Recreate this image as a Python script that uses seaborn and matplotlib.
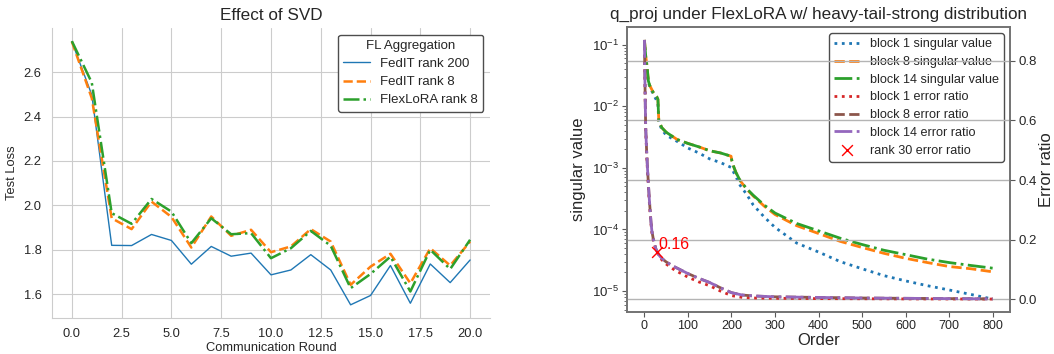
import matplotlib
matplotlib.use("Agg")
import matplotlib.pyplot as plt
import seaborn as sns

# ---------------- data: left panel ----------------
rounds = list(range(21))
fedit_r200 = [2.738, 2.498, 1.82, 1.819, 1.869, 1.842, 1.735, 1.815, 1.771, 1.785, 1.687,
              1.709, 1.778, 1.709, 1.552, 1.594, 1.729, 1.559, 1.736, 1.652, 1.754]
fedit_r8 = [2.738, 2.483, 1.942, 1.893, 2.017, 1.948, 1.81, 1.95, 1.863, 1.89, 1.789,
            1.815, 1.893, 1.837, 1.642, 1.724, 1.782, 1.649, 1.807, 1.729, 1.837]
flexlora_r8 = [2.74, 2.553, 1.965, 1.917, 2.029, 1.972, 1.83, 1.942, 1.87, 1.875, 1.762,
               1.807, 1.885, 1.818, 1.627, 1.691, 1.769, 1.612, 1.8, 1.713, 1.845]
left_labels = ["FedIT rank 200", "FedIT rank 8", "FlexLoRA rank 8"]

# ---------------- data: right panel ----------------
sv_order = [0, 3, 6, 9, 12, 20, 28, 31, 33, 40, 50, 75, 100, 125, 150, 175, 199, 201,
            205, 210, 220, 235, 250, 275, 300, 350, 400, 450, 500, 550, 600, 650, 700, 750, 800]
block1_sv = [0.12, 0.06, 0.04, 0.025, 0.021, 0.016, 0.0125, 0.011, 0.0055, 0.0042, 0.0034,
             0.0027, 0.0021, 0.00175, 0.0014, 0.00122, 0.00102, 0.00098, 0.00085, 0.00072,
             0.00052, 0.00037, 0.00025, 0.00016, 0.000108, 0.00006, 0.000043, 0.000030,
             0.000023, 0.0000178, 0.0000146, 0.0000122, 0.0000104, 0.0000088, 0.0000074]
block8_sv = [0.12, 0.065, 0.045, 0.026, 0.022, 0.017, 0.0145, 0.013, 0.0058, 0.0045, 0.0038,
             0.0029, 0.0025, 0.0022, 0.0019, 0.00175, 0.00155, 0.0013, 0.00105, 0.00085,
             0.00062, 0.00045, 0.00035, 0.00024, 0.000175, 0.000115, 0.000086, 0.000064,
             0.000051, 0.000041, 0.000034, 0.000029, 0.000025, 0.000023, 0.0000205]
block14_sv = [0.12, 0.065, 0.045, 0.026, 0.022, 0.017, 0.0145, 0.013, 0.0058, 0.0045, 0.0038,
              0.0029, 0.0025, 0.0022, 0.0019, 0.00175, 0.00155, 0.0013, 0.00105, 0.00085,
              0.00062, 0.00046, 0.00036, 0.00025, 0.000185, 0.000125, 0.000095, 0.000072,
              0.000057, 0.000046, 0.000039, 0.000033, 0.000029, 0.000026, 0.0000235]

err_order = [0, 1, 2, 3, 5, 7, 9, 11, 13, 15, 17, 20, 23, 26, 30, 35, 40, 50, 70, 100,
             125, 150, 175, 200, 225, 250, 300, 400, 500, 600, 700, 800]
block1_err = [0.87, 0.75, 0.65, 0.57, 0.49, 0.43, 0.38, 0.33, 0.29, 0.255, 0.225, 0.2,
              0.183, 0.168, 0.155, 0.142, 0.132, 0.118, 0.097, 0.074, 0.058, 0.045, 0.027,
              0.012, 0.006, 0.004, 0.003, 0.002, 0.0015, 0.001, 0.0008, 0.0005]
block8_err = [0.87, 0.75, 0.65, 0.57, 0.5, 0.44, 0.39, 0.34, 0.3, 0.26, 0.23, 0.205,
              0.187, 0.17, 0.157, 0.145, 0.137, 0.125, 0.108, 0.086, 0.07, 0.056, 0.038,
              0.022, 0.014, 0.011, 0.008, 0.006, 0.004, 0.003, 0.002, 0.001]
block14_err = [0.87, 0.75, 0.65, 0.57, 0.5, 0.44, 0.39, 0.34, 0.3, 0.26, 0.23, 0.205,
               0.187, 0.17, 0.157, 0.145, 0.137, 0.125, 0.108, 0.086, 0.07, 0.056, 0.038,
               0.022, 0.014, 0.011, 0.008, 0.006, 0.004, 0.003, 0.002, 0.001]
rank30_order = [30]
rank30_err = [0.16]
sv_labels = ["block 1 singular value", "block 8 singular value", "block 14 singular value"]
err_labels = ["block 1 error ratio", "block 8 error ratio", "block 14 error ratio"]

# ---------------- style ----------------
sns.set_style("whitegrid")
plt.rcParams["font.family"] = ["Liberation Sans", "DejaVu Sans"]
plt.rcParams["axes.unicode_minus"] = True

fig = plt.figure(figsize=(10.54, 3.54), dpi=100)

# ---------------- left panel ----------------
axL = fig.add_axes([0.0493, 0.1017, 0.4156, 0.8193])
sns.lineplot(x=rounds, y=fedit_r200, ax=axL, color="C0", linestyle="-", lw=1.0,
             label=left_labels[0], legend=False)
sns.lineplot(x=rounds, y=fedit_r8, ax=axL, color="C1", linestyle="--", lw=1.8,
             label=left_labels[1], legend=False)
sns.lineplot(x=rounds, y=flexlora_r8, ax=axL, color="C2", linestyle="-.", lw=1.8,
             label=left_labels[2], legend=False)
axL.set_xticks([0, 2.5, 5, 7.5, 10, 12.5, 15, 17.5, 20])
axL.set_yticks([1.6, 1.8, 2.0, 2.2, 2.4, 2.6])
axL.tick_params(labelsize=9.3, pad=4)
axL.set_xlabel("Communication Round", fontsize=9.3, labelpad=1.5)
axL.set_ylabel("Test Loss", fontsize=9.3)
axL.set_title("Effect of SVD", fontsize=12.3)
sns.despine(ax=axL)
legL = axL.legend(title="FL Aggregation", loc="upper right", fontsize=9.5,
                  title_fontsize=9.5, frameon=True, framealpha=1, labelspacing=0.45)
legL.get_frame().set_edgecolor("0.3")
legL.get_frame().set_linewidth(1.0)

# ---------------- right panel ----------------
axR = fig.add_axes([0.5949, 0.1186, 0.3634, 0.8051])
axR.set_yscale("log")
axR.grid(False)
sv_styles = [("C0", ":"), ("C1", "--"), ("C2", "-.")]
for vals, lab, (c, ls) in zip([block1_sv, block8_sv, block14_sv], sv_labels, sv_styles):
    sns.lineplot(x=sv_order, y=vals, ax=axR, color=c, linestyle=ls, lw=2,
                 label=lab, legend=False)

axE = axR.twinx()
axE.grid(False)
err_styles = [("C3", ":"), ("C5", "--"), ("C4", "-.")]
for vals, lab, (c, ls) in zip([block1_err, block8_err, block14_err], err_labels, err_styles):
    sns.lineplot(x=err_order, y=vals, ax=axE, color=c, linestyle=ls, lw=2,
                 label=lab, legend=False)
sns.scatterplot(x=rank30_order, y=rank30_err, ax=axE, marker="x", color="red", s=60,
                linewidth=1.0, label="rank 30 error ratio", legend=False, zorder=5)
axE.text(rank30_order[0] + 2, rank30_err[0] + 0.008, f"{rank30_err[0]:.2f}", color="red",
         fontsize=11.5, ha="left", va="baseline")
axE.yaxis.grid(True, color="#b4b4b4", lw=1.0)
axE.xaxis.grid(False)

axR.set_xticks(range(0, 801, 100))
axE.set_yticks([0.0, 0.2, 0.4, 0.6, 0.8])
for a in (axR, axE):
    for s in a.spines.values():
        s.set_color("0.45")
        s.set_linewidth(1.2)
axR.tick_params(axis="both", which="major", bottom=True, left=True, length=3.5, width=0.8,
                color="0.35", direction="out", labelsize=9, pad=2.5)
axR.tick_params(axis="y", which="minor", left=True, length=2, width=0.6, color="0.35")
axE.tick_params(axis="y", which="major", right=True, length=3.5, width=0.8, color="0.35",
                direction="out", labelsize=9.5, pad=2.5)
axR.tick_params(axis="y", labelsize=9.5)
axR.set_xlabel("Order", fontsize=12, labelpad=0.5)
axR.set_ylabel("singular value", fontsize=12)
axE.set_ylabel("Error ratio", fontsize=12, labelpad=1.5)
axR.set_title("q_proj under FlexLoRA w/ heavy-tail-strong distribution", fontsize=12.3)

h1, l1 = axR.get_legend_handles_labels()
h2, l2 = axE.get_legend_handles_labels()
legR = axR.legend(h1 + h2, l1 + l2, loc="upper right", fontsize=9.1, frameon=True,
                  framealpha=1, labelspacing=0.45)
legR.get_frame().set_edgecolor("0.3")
legR.get_frame().set_linewidth(1.0)

fig.savefig("out.png", dpi=100)
